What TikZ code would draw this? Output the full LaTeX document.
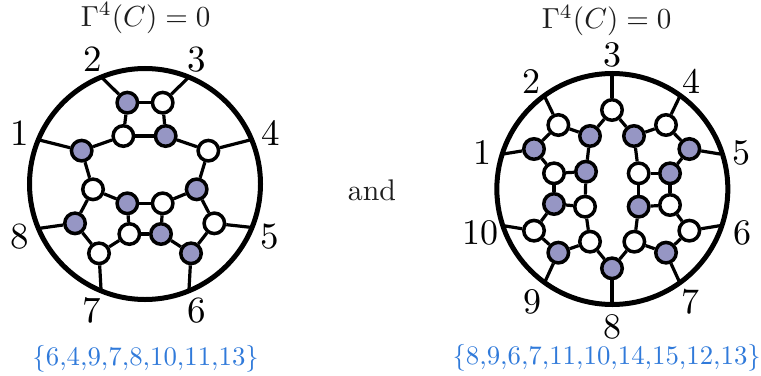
\documentclass[tikz,border=0pt]{standalone}
\definecolor{vfill}{RGB}{150,150,196}
\definecolor{blue1}{RGB}{48,122,218}
\definecolor{ink}{RGB}{30,30,30}
\tikzset{
  ww/.style={circle,draw=black,fill=white,line width=3.5pt,minimum size=20.5pt,inner sep=0pt},
  bb/.style={circle,draw=black,fill=vfill,line width=3.5pt,minimum size=20.5pt,inner sep=0pt},
  rim/.style={circle,draw=black,line width=5pt,inner sep=0pt},
  edge/.style={line width=3.2pt},
  num/.style={scale=3.7,inner sep=0pt},
  numr/.style={scale=3.6,inner sep=0pt},
  ttl/.style={scale=2.9,inner sep=0pt,text=ink},
  tag/.style={scale=2.68,inner sep=0pt,text=blue1},
}
\begin{document}
\begin{tikzpicture}[x=0.33333pt,y=-0.33333pt]
\useasboundingbox (0,0) rectangle (2283,1128);
% left diagram
\node[rim,minimum size=231pt] (L) at (435,552) {};
\coordinate (L1) at (118,420);
\coordinate (L2) at (303,230);
\coordinate (L3) at (568,230);
\coordinate (L4) at (750,420);
\coordinate (L5) at (752,682);
\coordinate (L6) at (567,868);
\coordinate (L7) at (303,868);
\coordinate (L8) at (118,685);
\node[bb] (la) at (382,308) {};
\node[ww] (lb) at (488,308) {};
\node[ww] (lc) at (370,408) {};
\node[bb] (ld) at (497,408) {};
\node[bb] (le) at (245,452) {};
\node[ww] (lf) at (625,452) {};
\node[ww] (lg) at (279,568) {};
\node[bb] (lh) at (590,568) {};
\node[bb] (li) at (382,610) {};
\node[ww] (lj) at (488,610) {};
\node[bb] (lk) at (225,670) {};
\node[ww] (ll) at (643,670) {};
\node[ww] (lm) at (388,702) {};
\node[bb] (ln) at (483,702) {};
\node[ww] (lo) at (297,760) {};
\node[bb] (lp) at (573,760) {};
\foreach \p/\q in {la/lb,la/lc,lb/ld,lc/ld,lc/le,ld/lf,le/lg,lf/lh,lg/li,lh/lj,li/lj,lg/lk,lh/ll,li/lm,lj/ln,lm/ln,lk/lo,ll/lp,lm/lo,ln/lp,L1/le,L2/la,L3/lb,L4/lf,L5/ll,L6/lp,L7/lo,L8/lk}
  \draw[edge] (\p) -- (\q);
\node[num] (ln1) at (58,400) {1};
\node[num] (ln2) at (278,178) {2};
\node[num] (ln3) at (590,178) {3};
\node[num] (ln4) at (812,400) {4};
\node[num] (ln5) at (810,710) {5};
\node[num] (ln6) at (590,932) {6};
\node[num] (ln7) at (275,932) {7};
\node[num] (ln8) at (58,710) {8};
\node[ttl] (lt) at (437,55) {$\Gamma^4(C)=0$};
\node[tag] (lq) at (437,1077) {\{6,4,9,7,8,10,11,13\}};
\node[ttl,scale=1.03] (andw) at (1116,572) {and};
% right diagram
\begin{scope}[xshift=450pt]
\node[rim,minimum size=231pt] (R) at (487,567) {};
\coordinate (R1) at (160,462);
\coordinate (R2) at (285,292);
\coordinate (R3) at (486,225);
\coordinate (R4) at (688,292);
\coordinate (R5) at (810,462);
\coordinate (R6) at (810,677);
\coordinate (R7) at (688,845);
\coordinate (R8) at (486,910);
\coordinate (R9) at (285,845);
\coordinate (R10) at (160,677);
\node[ww] (ra) at (486,330) {};
\node[ww] (rb) at (325,375) {};
\node[bb] (rc) at (420,408) {};
\node[bb] (rd) at (552,408) {};
\node[ww] (re) at (648,375) {};
\node[bb] (rf) at (252,447) {};
\node[bb] (rg) at (718,447) {};
\node[ww] (rh) at (312,520) {};
\node[bb] (ri) at (408,515) {};
\node[ww] (rj) at (566,520) {};
\node[bb] (rk) at (660,520) {};
\node[bb] (rl) at (312,612) {};
\node[ww] (rm) at (405,620) {};
\node[bb] (rn) at (566,620) {};
\node[ww] (ro) at (660,615) {};
\node[ww] (rp) at (252,692) {};
\node[ww] (rq) at (718,692) {};
\node[bb] (rr) at (325,758) {};
\node[ww] (rs) at (420,725) {};
\node[ww] (rt) at (553,725) {};
\node[bb] (ru) at (648,758) {};
\node[bb] (rv) at (486,805) {};
\foreach \p/\q in {ra/rc,ra/rd,rb/rc,rb/rf,rd/re,re/rg,rc/ri,rd/rj,rf/rh,rg/rk,rh/ri,rj/rk,rh/rl,ri/rm,rj/rn,rk/ro,rl/rm,rn/ro,rl/rp,rm/rs,rn/rt,ro/rq,rp/rr,rr/rs,rs/rv,rt/rv,rt/ru,ru/rq,R1/rf,R2/rb,R3/ra,R4/re,R5/rg,R6/rq,R7/ru,R8/rv,R9/rr,R10/rp}
  \draw[edge] (\p) -- (\q);
\node[numr] (rn1) at (97,458) {1};
\node[numr] (rn2) at (243,245) {2};
\node[numr] (rn3) at (486,165) {3};
\node[numr] (rn4) at (725,245) {4};
\node[numr] (rn5) at (875,458) {5};
\node[numr] (rn6) at (877,700) {6};
\node[numr] (rn7) at (722,905) {7};
\node[numr] (rn8) at (486,982) {8};
\node[numr] (rn9) at (248,905) {9};
\node[numr] (rn10) at (92,700) {10};
\node[ttl] (rt0) at (470,62) {$\Gamma^4(C)=0$};
\node[tag] (rq0) at (470,1072) {\{8,9,6,7,11,10,14,15,12,13\}};
\end{scope}
\end{tikzpicture}
\end{document}
